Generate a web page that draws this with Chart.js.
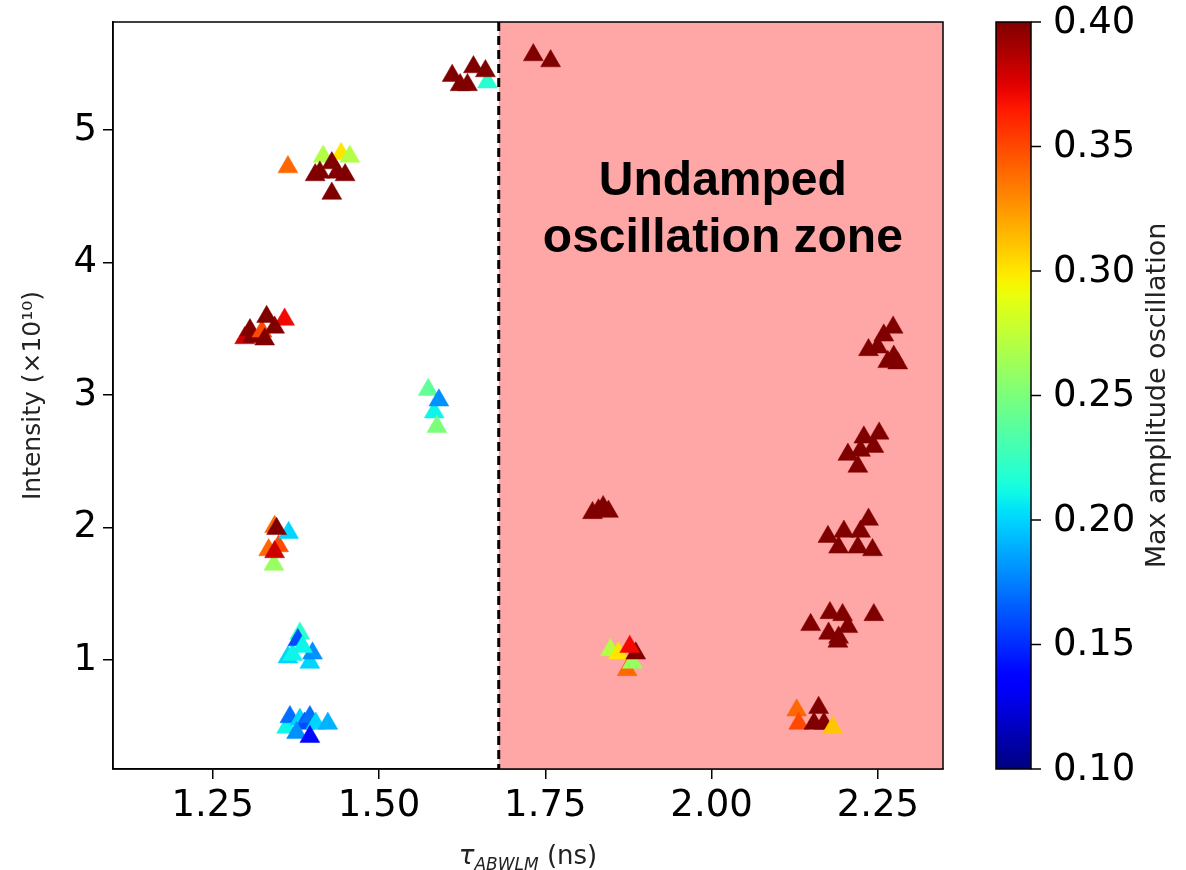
<!DOCTYPE html>
<html>
<head>
<meta charset="utf-8">
<script src="https://cdn.jsdelivr.net/npm/chart.js@4.4.0/dist/chart.umd.min.js"></script>
<style>
  html, body { margin: 0; padding: 0; background: #fff; }
  #wrap { width: 1186px; height: 870px; position: relative; }
</style>
</head>
<body>
<div id="wrap"><canvas id="chartCanvas"></canvas></div>
<script>
// tau_ABWLM (ns)
const tau = [
  1.663, 1.610, 1.622, 1.642, 1.660, 1.633,
  1.732, 1.758,
  1.363, 1.416, 1.443, 1.456, 1.429, 1.411, 1.437, 1.449, 1.404, 1.429,
  1.298, 1.310, 1.306, 1.358, 1.324, 1.331, 1.343, 1.328,
  1.574, 1.583, 1.587, 1.590,
  1.342, 1.334, 1.349, 1.343, 1.364, 1.343, 1.346,
  1.363, 1.370, 1.381, 1.378, 1.396, 1.400, 1.385,
  1.361, 1.366, 1.381, 1.388, 1.396, 1.405, 1.423, 1.376, 1.396,
  1.821, 1.837, 1.845, 1.830,
  1.873, 1.881, 1.848, 1.860, 1.886, 1.877,
  2.128, 2.131, 2.161, 2.154, 2.169, 2.182,
  2.149, 2.178, 2.197, 2.244, 2.176, 2.191, 2.205, 2.190,
  2.175, 2.199, 2.236, 2.224, 2.191, 2.220, 2.242,
  2.229, 2.252, 2.205, 2.220, 2.244, 2.224,
  2.273, 2.259, 2.236, 2.274, 2.280, 2.265, 2.250
];
// intensity (x1e10)
const intensity = [
  5.36, 5.41, 5.34, 5.475, 5.445, 5.34,
  5.566, 5.52,
  4.72, 4.80, 4.82, 4.80, 4.75, 4.68, 4.68, 4.66, 4.66, 4.52,
  3.43, 3.44, 3.49, 3.57, 3.48, 3.59, 3.51, 3.42,
  3.04, 2.87, 2.76, 2.96,
  1.72, 1.83, 1.86, 1.815, 1.96, 2.005, 1.99,
  1.02, 1.04, 1.20, 1.15, 0.98, 1.05, 1.10,
  0.49, 0.57, 0.55, 0.52, 0.57, 0.52, 0.52, 0.45, 0.42,
  2.11, 2.155, 2.12, 2.13,
  0.925, 0.98, 1.075, 1.05, 1.05, 1.10,
  0.62, 0.52, 0.64, 0.52, 0.52, 0.49,
  1.265, 1.355, 1.34, 1.34, 1.20, 1.17, 1.25, 1.14,
  1.93, 1.97, 2.06, 1.97, 1.85, 1.85, 1.83,
  2.68, 2.71, 2.55, 2.46, 2.61, 2.58,
  3.51, 3.45, 3.34, 3.29, 3.24, 3.25, 3.36
];
// max amplitude oscillation (colour value)
const amplitude = [
  0.22, 0.40, 0.40, 0.40, 0.40, 0.40,
  0.40, 0.40,
  0.34, 0.27, 0.30, 0.27, 0.40, 0.40, 0.40, 0.40, 0.40, 0.40,
  0.38, 0.40, 0.40, 0.37, 0.35, 0.40, 0.40, 0.40,
  0.24, 0.21, 0.25, 0.18,
  0.26, 0.34, 0.35, 0.38, 0.20, 0.34, 0.40,
  0.20, 0.21, 0.22, 0.16, 0.20, 0.18, 0.21,
  0.21, 0.17, 0.20, 0.16, 0.17, 0.20, 0.19, 0.18, 0.14,
  0.40, 0.40, 0.40, 0.40,
  0.34, 0.26, 0.27, 0.30, 0.40, 0.37,
  0.34, 0.35, 0.40, 0.40, 0.40, 0.31,
  0.40, 0.40, 0.40, 0.40, 0.40, 0.40, 0.40, 0.40,
  0.40, 0.40, 0.40, 0.40, 0.40, 0.40, 0.40,
  0.40, 0.40, 0.40, 0.40, 0.40, 0.40,
  0.40, 0.40, 0.40, 0.40, 0.40, 0.40, 0.40
];

const xTicks = [1.25, 1.50, 1.75, 2.00, 2.25];
const yTicks = [1, 2, 3, 4, 5];
const cbarTicks = [0.10, 0.15, 0.20, 0.25, 0.30, 0.35, 0.40];
const cbarMin = 0.10, cbarMax = 0.40;
const zoneStart = 1.68;
const zoneLabel = ['Undamped', 'oscillation zone'];
const zoneLabelPos = { x: 2.017, y: [4.61, 4.18] };

// matplotlib "jet"
const jetSeg = {
  r: [[0, 0], [0.35, 0], [0.66, 1], [0.89, 1], [1, 0.5]],
  g: [[0, 0], [0.125, 0], [0.375, 1], [0.64, 1], [0.91, 0], [1, 0]],
  b: [[0, 0.5], [0.11, 1], [0.34, 1], [0.65, 0], [1, 0]]
};
function seg(pts, t) {
  for (let i = 1; i < pts.length; i++) {
    if (t <= pts[i][0]) {
      const [x0, y0] = pts[i - 1], [x1, y1] = pts[i];
      return y0 + (y1 - y0) * (t - x0) / (x1 - x0);
    }
  }
  return pts[pts.length - 1][1];
}
function jet(v) {
  let t = (v - cbarMin) / (cbarMax - cbarMin);
  t = Math.max(0, Math.min(1, t));
  const r = Math.round(seg(jetSeg.r, t) * 255);
  const g = Math.round(seg(jetSeg.g, t) * 255);
  const b = Math.round(seg(jetSeg.b, t) * 255);
  return `rgb(${r},${g},${b})`;
}

const points = tau.map((x, i) => ({ x: x, y: intensity[i] }));
const colors = amplitude.map(jet);

const tickFont = { family: 'DejaVu Sans', size: 37 };

// pink zone + dashed line behind the points
const zonePlugin = {
  id: 'zone',
  beforeDatasetsDraw(chart) {
    const { ctx, chartArea: a, scales: { x } } = chart;
    const x0 = x.getPixelForValue(zoneStart);
    ctx.save();
    ctx.fillStyle = 'rgb(255,166,166)';
    ctx.fillRect(x0, a.top, a.right - x0, a.bottom - a.top);
    ctx.strokeStyle = '#000';
    ctx.lineWidth = 3;
    ctx.setLineDash([9, 5]);
    ctx.beginPath();
    ctx.moveTo(x0, a.top);
    ctx.lineTo(x0, a.bottom);
    ctx.stroke();
    ctx.restore();
  },
  afterDatasetsDraw(chart) {
    const { ctx, chartArea: a, scales: { x, y } } = chart;
    ctx.save();
    // text in the zone
    ctx.fillStyle = '#000';
    ctx.font = 'bold 48px "Liberation Sans", Arial, sans-serif';
    ctx.textAlign = 'center';
    ctx.textBaseline = 'middle';
    zoneLabel.forEach((t, i) => {
      ctx.fillText(t, x.getPixelForValue(zoneLabelPos.x), y.getPixelForValue(zoneLabelPos.y[i]));
    });
    // frame
    ctx.strokeStyle = '#000';
    ctx.lineWidth = 1.5;
    ctx.strokeRect(a.left, a.top, a.right - a.left, a.bottom - a.top);
    ctx.restore();
  }
};

// x-axis title with subscript + colour bar
const extrasPlugin = {
  id: 'extras',
  afterDraw(chart) {
    const { ctx, chartArea: a, scales: { cb } } = chart;
    ctx.save();
    // x title
    const big = '26px "DejaVu Sans"';
    const ital = 'italic 26px "DejaVu Sans"';
    const sub = 'italic 17px "DejaVu Sans"';
    const parts = [['τ', ital, 0], ['ABWLM', sub, 6], [' (ns)', big, 0]];
    let w = 0;
    parts.forEach(p => { ctx.font = p[1]; w += ctx.measureText(p[0]).width; });
    let cx = (a.left + a.right) / 2 - w / 2;
    const by = 864;
    ctx.fillStyle = '#222';
    ctx.textBaseline = 'alphabetic';
    ctx.textAlign = 'left';
    parts.forEach(p => {
      ctx.font = p[1];
      ctx.fillText(p[0], cx, by + p[2]);
      cx += ctx.measureText(p[0]).width;
    });

    // colour bar
    const barL = 996, barR = 1031;
    const top = cb.getPixelForValue(cbarMax), bot = cb.getPixelForValue(cbarMin);
    const grad = ctx.createLinearGradient(0, bot, 0, top);
    for (let i = 0; i <= 60; i++) {
      grad.addColorStop(i / 60, jet(cbarMin + (cbarMax - cbarMin) * i / 60));
    }
    ctx.fillStyle = grad;
    ctx.fillRect(barL, top, barR - barL, bot - top);
    ctx.strokeStyle = '#000';
    ctx.lineWidth = 1.5;
    ctx.strokeRect(barL, top, barR - barL, bot - top);
    ctx.font = '37px "DejaVu Sans"';
    ctx.fillStyle = '#000';
    ctx.textBaseline = 'middle';
    cbarTicks.forEach(v => {
      const py = cb.getPixelForValue(v);
      ctx.beginPath();
      ctx.moveTo(barR, py);
      ctx.lineTo(barR + 10, py);
      ctx.stroke();
      ctx.fillText(v.toFixed(2), 1053, py + 1);
    });
    ctx.translate(1158, (top + bot) / 2);
    ctx.rotate(-Math.PI / 2);
    ctx.textAlign = 'center';
    ctx.font = '27px "DejaVu Sans"';
    ctx.fillStyle = '#222';
    ctx.fillText('Max amplitude oscillation', 0, 0);
    ctx.restore();
  }
};

new Chart(document.getElementById('chartCanvas'), {
  type: 'scatter',
  data: {
    datasets: [{
      data: points,
      pointStyle: 'triangle',
      pointRadius: 11.5,
      pointHoverRadius: 11.5,
      pointBackgroundColor: colors,
      pointBorderColor: colors,
      pointBorderWidth: 0.5
    }]
  },
  options: {
    responsive: true,
    maintainAspectRatio: false,
    animation: false,
    layout: { padding: { top: 22, right: 243, left: 0, bottom: 0 } },
    plugins: {
      legend: { display: false },
      tooltip: { enabled: false }
    },
    scales: {
      x: {
        type: 'linear',
        min: 1.10,
        max: 2.348,
        afterBuildTicks: s => { s.ticks = xTicks.map(v => ({ value: v })); },
        afterFit: s => { s.height = 101; },
        ticks: {
          font: tickFont,
          color: '#000',
          padding: 5,
          maxRotation: 0,
          callback: v => v.toFixed(2)
        },
        grid: { drawOnChartArea: false, tickLength: 10, color: '#000', lineWidth: 1.5 },
        border: { display: true, color: '#000', width: 1.5 }
      },
      y: {
        type: 'linear',
        min: 0.177,
        max: 5.815,
        afterBuildTicks: s => { s.ticks = yTicks.map(v => ({ value: v })); },
        afterFit: s => { s.width = 113; s.paddingTop = 0; s.paddingBottom = 0; },
        ticks: {
          font: { family: 'DejaVu Sans', size: 37, lineHeight: 0.8 },
          color: '#000',
          padding: 6,
          callback: v => String(v)
        },
        grid: { drawOnChartArea: false, tickLength: 10, color: '#000', lineWidth: 1.5 },
        border: { display: true, color: '#000', width: 1.5 },
        title: {
          display: true,
          text: 'Intensity (×10¹⁰)',
          color: '#222',
          font: { family: 'DejaVu Sans', size: 25 },
          padding: { top: 18, bottom: 0 }
        }
      },
      cb: {
        type: 'linear',
        position: 'right',
        display: false,
        min: cbarMin,
        max: cbarMax
      }
    }
  },
  plugins: [zonePlugin, extrasPlugin]
});
</script>
</body>
</html>
